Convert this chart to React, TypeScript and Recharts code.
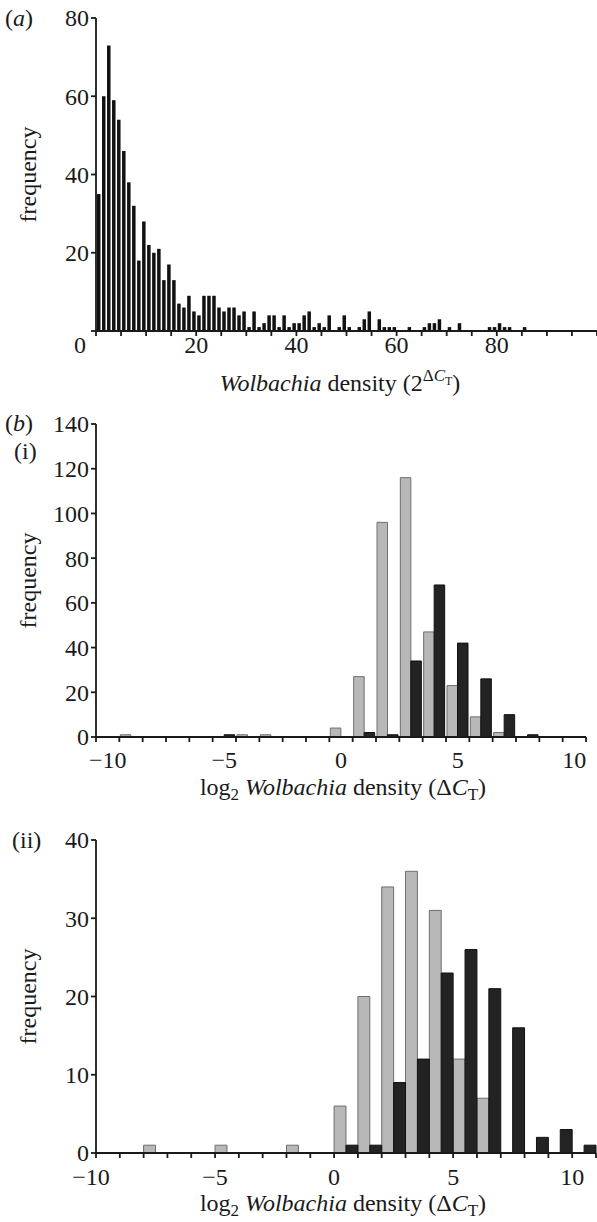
import React from "react";
import { BarChart, Bar, XAxis, YAxis } from "recharts";

const SERIF = "Liberation Serif, Times New Roman, serif";
const FS = 24;
const INK = "#1a1a1a";

// (a) frequency per unit bin of Wolbachia density (2^dCt), bins [0,1), [1,2), ...
const densityCounts = [
  35, 60, 73, 59, 54, 46, 38, 32, 18, 28, 22, 20, 21, 13, 17, 13, 7, 6, 9, 5,
  4, 9, 9, 9, 6, 5, 6, 6, 4, 5, 1, 5, 1, 2, 4, 4, 1, 4, 1, 2,
  2, 4, 5, 1, 2, 1, 4, 0, 1, 4, 1, 0, 1, 3, 5, 0, 3, 1, 1, 1,
  0, 0, 1, 0, 0, 1, 2, 2, 3, 0, 1, 0, 2, 0, 0, 0, 0, 0, 1, 1,
  2, 1, 1, 0, 0, 1,
];
const densityTicks = [0, 5, 10, 15, 20, 25, 30, 35, 40, 45, 50, 55, 60, 65, 70, 75, 80, 85, 90, 95, 100];
const densityLabels = [0, 20, 40, 60, 80];
const freqTicksA = [0, 20, 40, 60, 80];

// (b) log2 density bins
const logBins = [-10, -9, -8, -7, -6, -5, -4, -3, -2, -1, 0, 1, 2, 3, 4, 5, 6, 7, 8, 9, 10];
const greyI = [0, 1, 0, 0, 0, 0, 1, 1, 0, 0, 4, 27, 96, 116, 47, 23, 9, 2, 0, 0, 0];
const blackI = [0, 0, 0, 0, 0, 1, 0, 0, 0, 0, 0, 2, 1, 34, 68, 42, 26, 10, 1, 0, 0];
const greyII = [0, 0, 1, 0, 0, 1, 0, 0, 1, 0, 6, 20, 34, 36, 31, 12, 7, 0, 0, 0, 0];
const blackII = [0, 0, 0, 0, 0, 0, 0, 0, 0, 0, 1, 1, 9, 12, 23, 26, 21, 16, 2, 3, 1];
const logTicks = [-10, -9, -8, -7, -6, -5, -4, -3, -2, -1, 0, 1, 2, 3, 4, 5, 6, 7, 8, 9, 10, 11];
const logLabels = [-10, -5, 0, 5, 10];
const freqTicksI = [0, 20, 40, 60, 80, 100, 120, 140];
const freqTicksII = [0, 10, 20, 30, 40];

const dataA = densityCounts.map((n, i) => ({ x: i + 0.5, n }));
const dataI = logBins.map((b, i) => ({ x: b + 0.5, grey: greyI[i], black: blackI[i] }));
const dataII = logBins.map((b, i) => ({ x: b + 0.5, grey: greyII[i], black: blackII[i] }));

const fmt = (v: number) => (v < 0 ? "\u2212" + Math.abs(v) : String(v));
const txt = { fontFamily: SERIF, fontSize: FS };

const XTick = (props: any) => {
  const { x, y, payload, labels, shift, offsets } = props;
  const v = payload.value;
  if (!labels.includes(v)) return <g />;
  const dx = (shift || 0) + ((offsets && offsets[v]) || 0);
  return (
    <text x={x + dx} y={y} dy="0.71em" textAnchor="middle" style={txt} fill={INK}>
      {fmt(v)}
    </text>
  );
};

const YTick = (props: any) => {
  const { x, y, payload, hideZero } = props;
  if (hideZero && payload.value === 0) return <g />;
  return (
    <text x={x} y={y} dy="0.35em" textAnchor="end" style={txt} fill={INK}>
      {payload.value}
    </text>
  );
};

const SideLabel = (props: any) => {
  const { viewBox, tags } = props;
  const cx = 28;
  const cy = viewBox.y + viewBox.height / 2;
  return (
    <g style={txt} fill={INK}>
      <text x={cx} y={cy} transform={`rotate(-90 ${cx} ${cy})`} textAnchor="middle" dominantBaseline="central">
        frequency
      </text>
      {tags.map((t: any) => (
        <text key={t.text} x={t.x} y={t.y}>
          ({t.italic ? <tspan fontStyle="italic">{t.text}</tspan> : t.text})
        </text>
      ))}
    </g>
  );
};

const TitleA = (props: any) => {
  const { viewBox } = props;
  return (
    <text x={340} y={viewBox.y + 60} textAnchor="middle" style={txt} fill={INK}>
      <tspan fontStyle="italic">Wolbachia</tspan>
      <tspan> density (2</tspan>
      <tspan dy={-10} fontSize={17}>{"\u0394"}</tspan>
      <tspan fontSize={17} fontStyle="italic">C</tspan>
      <tspan dy={4} fontSize={12}>T</tspan>
      <tspan dy={6}>)</tspan>
    </text>
  );
};

const TitleLog = (props: any) => {
  const { viewBox, dyBase } = props;
  return (
    <text x={343} y={viewBox.y + dyBase} textAnchor="middle" style={txt} fill={INK}>
      <tspan>log</tspan>
      <tspan dy={5} fontSize={17}>2</tspan>
      <tspan dy={-5}> </tspan>
      <tspan fontStyle="italic">Wolbachia</tspan>
      <tspan> density ({"\u0394"}</tspan>
      <tspan fontStyle="italic">C</tspan>
      <tspan dy={5} fontSize={17}>T</tspan>
      <tspan dy={-5}>)</tspan>
    </text>
  );
};

const axisProps = {
  stroke: INK,
  strokeWidth: 1.8,
  tickSize: 5,
  interval: 0 as const,
};

const PanelA = () => (
  <BarChart width={597} height={410} data={dataA} margin={{ top: 18, right: 0, bottom: 0, left: 0 }} barGap={0}>
    <XAxis
      dataKey="x"
      type="number"
      domain={[0, 100]}
      ticks={densityTicks}
      height={79}
      tickMargin={0}
      {...axisProps}
      tick={(p: any) => <XTick {...p} labels={densityLabels} offsets={{ 0: -16 }} />}
      label={{ content: (p: any) => <TitleA {...p} /> }}
    />
    <YAxis
      type="number"
      domain={[0, 80]}
      ticks={freqTicksA}
      width={96}
      tickMargin={2}
      {...axisProps}
      tick={(p: any) => <YTick {...p} hideZero />}
      label={{
        content: (p: any) => <SideLabel {...p} tags={[{ text: "a", italic: true, x: 5, y: 26 }]} />,
      }}
    />
    <Bar dataKey="n" fill="#111" barSize={3.5} isAnimationActive={false} />
  </BarChart>
);

type LogProps = {
  data: any[];
  height: number;
  top: number;
  right: number;
  xHeight: number;
  yMax: number;
  yTicks: number[];
  tickMargin: number;
  labelShift: number;
  labelOffsets: Record<number, number>;
  titleDy: number;
  tags: any[];
  barSize: number;
};

const LogPanel = (p: LogProps) => (
  <BarChart
    width={597}
    height={p.height}
    data={p.data}
    margin={{ top: p.top, right: p.right, bottom: 0, left: 0 }}
    barGap={0}
    barCategoryGap={0}
  >
    <XAxis
      dataKey="x"
      type="number"
      domain={[-10, 11]}
      ticks={logTicks}
      height={p.xHeight}
      tickMargin={p.tickMargin}
      {...axisProps}
      tick={(t: any) => <XTick {...t} labels={logLabels} shift={p.labelShift} offsets={p.labelOffsets} />}
      label={{ content: (t: any) => <TitleLog {...t} dyBase={p.titleDy} /> }}
    />
    <YAxis
      type="number"
      domain={[0, p.yMax]}
      ticks={p.yTicks}
      width={96}
      tickMargin={2}
      {...axisProps}
      tick={(t: any) => <YTick {...t} />}
      label={{ content: (t: any) => <SideLabel {...t} tags={p.tags} /> }}
    />
    <Bar dataKey="grey" fill="#b8b8b8" stroke="#6e6e6e" strokeWidth={1} barSize={p.barSize} isAnimationActive={false} />
    <Bar dataKey="black" fill="#232323" stroke="#111" strokeWidth={1} barSize={p.barSize} isAnimationActive={false} />
  </BarChart>
);

export default function App() {
  return (
    <div style={{ position: "absolute", left: 0, top: 0, width: 597, height: 1222, background: "#fff" }}>
      <div style={{ position: "absolute", left: 0, top: 0 }}>
        <PanelA />
      </div>
      <div style={{ position: "absolute", left: 0, top: 400 }}>
        <LogPanel
          data={dataI}
          height={420}
          top={24}
          right={11}
          xHeight={83}
          yMax={140}
          yTicks={freqTicksI}
          tickMargin={9}
          labelShift={11.67}
          labelOffsets={{}}
          titleDy={58}
          barSize={11.67}
          tags={[
            { text: "b", italic: true, x: 5, y: 31 },
            { text: "i", italic: false, x: 14, y: 59 },
          ]}
        />
      </div>
      <div style={{ position: "absolute", left: 0, top: 800 }}>
        <LogPanel
          data={dataII}
          height={422}
          top={40}
          right={1}
          xHeight={69}
          yMax={40}
          yTicks={freqTicksII}
          tickMargin={10}
          labelShift={0}
          labelOffsets={{ [-10]: -5 }}
          titleDy={58}
          barSize={11.9}
          tags={[{ text: "ii", italic: false, x: 12, y: 48 }]}
        />
      </div>
    </div>
  );
}
